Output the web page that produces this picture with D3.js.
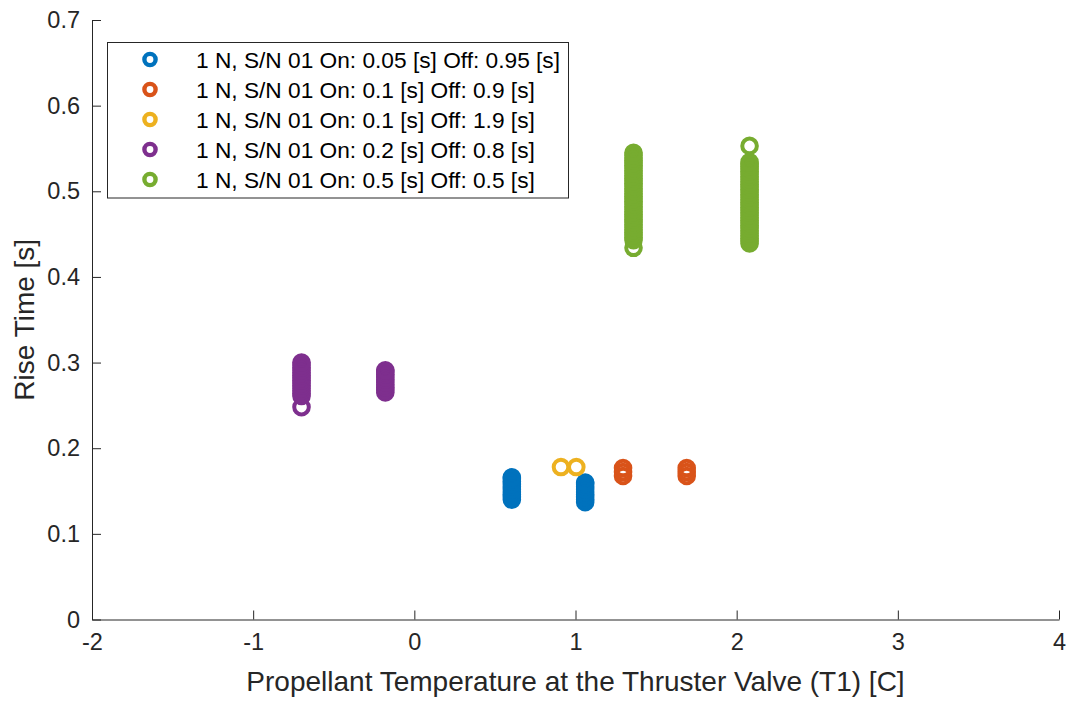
<!DOCTYPE html>
<html><head><meta charset="utf-8">
<script src="https://cdn.jsdelivr.net/npm/d3@7"></script>
<style>
body{margin:0;background:#fff;}
svg{display:block;font-family:"Liberation Sans",Arial,Helvetica,sans-serif;}
</style></head>
<body><svg id="c" width="1071" height="704"></svg>
<script>
// ---- data ----
const legendLabels = [
  "1 N, S/N 01 On: 0.05 [s] Off: 0.95 [s]",
  "1 N, S/N 01 On: 0.1 [s] Off: 0.9 [s]",
  "1 N, S/N 01 On: 0.1 [s] Off: 1.9 [s]",
  "1 N, S/N 01 On: 0.2 [s] Off: 0.8 [s]",
  "1 N, S/N 01 On: 0.5 [s] Off: 0.5 [s]"
];
const seriesColors = ["#0072BD", "#D95319", "#EDB120", "#7E2F8E", "#77AC30"];
const xTicks = [-2, -1, 0, 1, 2, 3, 4];
const xTickLabels = ["-2", "-1", "0", "1", "2", "3", "4"];
const yTicks = [0, 0.1, 0.2, 0.3, 0.4, 0.5, 0.6, 0.7];
const yTickLabels = ["0", "0.1", "0.2", "0.3", "0.4", "0.5", "0.6", "0.7"];

// series 1: On 0.05 / Off 0.95
const blueTemp = [0.605, 1.06];
const blueRise = [
  [0.140, 0.143, 0.146, 0.149, 0.152, 0.155, 0.158, 0.161, 0.164, 0.166],
  [0.137, 0.140, 0.143, 0.146, 0.149, 0.152, 0.155, 0.158, 0.160]
];
// series 2: On 0.1 / Off 0.9
const redTemp = [1.295, 1.69];
const redRise = [
  [0.1675, 0.1722, 0.1769],
  [0.1675, 0.1722, 0.1769]
];
// series 3: On 0.1 / Off 1.9
const yellowTemp = [0.91, 1.005];
const yellowRise = [
  [0.178],
  [0.178]
];
// series 4: On 0.2 / Off 0.8
const purpleTemp = [-0.70, -0.18];
const purpleRise = [
  [0.248, 0.261, 0.264, 0.267, 0.270, 0.273, 0.276, 0.279, 0.282, 0.285, 0.288, 0.291, 0.294, 0.297, 0.300],
  [0.265, 0.268, 0.271, 0.274, 0.277, 0.280, 0.283, 0.286, 0.289, 0.291]
];
// series 5: On 0.5 / Off 0.5
const greenTemp = [1.36, 2.08];
const greenRise = [
  [0.434, 0.443, 0.446, 0.449, 0.452, 0.455, 0.458, 0.461, 0.464, 0.467, 0.470, 0.473, 0.476, 0.479,
   0.482, 0.485, 0.488, 0.491, 0.494, 0.497, 0.500, 0.503, 0.506, 0.509, 0.512, 0.515, 0.518, 0.521,
   0.524, 0.527, 0.530, 0.533, 0.536, 0.539, 0.542, 0.545],
  [0.439, 0.442, 0.445, 0.448, 0.451, 0.454, 0.457, 0.460, 0.463, 0.466, 0.469, 0.472, 0.475, 0.478,
   0.481, 0.484, 0.487, 0.490, 0.493, 0.496, 0.499, 0.502, 0.505, 0.508, 0.511, 0.514, 0.517, 0.520,
   0.523, 0.526, 0.529, 0.532, 0.534, 0.553]
];

const seriesTemps = [blueTemp, redTemp, yellowTemp, purpleTemp, greenTemp];
const seriesRises = [blueRise, redRise, yellowRise, purpleRise, greenRise];

// ---- layout ----
const L = 92, R = 1059, T = 20, B = 619.5;
const ink = "#262626";
const mr = 7.3, msw = 4;

const svg = d3.select("#c");
const x = d3.scaleLinear().domain([-2, 4]).range([L, R]);
const y = d3.scaleLinear().domain([0, 0.7]).range([B, T]);

// points
seriesTemps.forEach((temps, si) => {
  const pts = [];
  temps.forEach((t, ci) => seriesRises[si][ci].forEach(r => pts.push([t, r])));
  svg.append("g").selectAll("circle").data(pts).join("circle")
    .attr("cx", d => x(d[0])).attr("cy", d => y(d[1])).attr("r", mr)
    .attr("fill", "none").attr("stroke", seriesColors[si]).attr("stroke-width", msw);
});

// axes
const xa = svg.append("g").attr("transform", `translate(0,${B})`)
  .call(d3.axisBottom(x).tickValues(xTicks).tickSizeInner(-9).tickSizeOuter(0).tickPadding(14)
    .tickFormat((d, i) => xTickLabels[i]));
const ya = svg.append("g").attr("transform", `translate(${L},0)`)
  .call(d3.axisLeft(y).tickValues(yTicks).tickSizeInner(-9).tickSizeOuter(0).tickPadding(12)
    .tickFormat((d, i) => yTickLabels[i]));
[xa, ya].forEach(a => {
  a.select(".domain").attr("stroke", ink).attr("stroke-width", 1);
  a.selectAll(".tick line").attr("stroke", ink).attr("stroke-width", 1);
  a.selectAll(".tick text").attr("fill", ink).style("font-size", "23.5px");
});
xa.selectAll(".tick text").attr("dy", "0.71em");

// axis labels
svg.append("text").attr("x", (L + R) / 2).attr("y", 691).attr("text-anchor", "middle")
  .attr("fill", ink).style("font-size", "28px").text("Propellant Temperature at the Thruster Valve (T1) [C]");
svg.append("text").attr("transform", `translate(34,${(T + B) / 2}) rotate(-90)`).attr("text-anchor", "middle")
  .attr("fill", ink).style("font-size", "28px").text("Rise Time [s]");

// legend
const lg = svg.append("g");
lg.append("rect").attr("x", 107.5).attr("y", 42.5).attr("width", 461).attr("height", 155.5)
  .attr("fill", "#fff").attr("stroke", ink).attr("stroke-width", 1);
legendLabels.forEach((lab, i) => {
  const cy = 59.5 + i * 30;
  lg.append("circle").attr("cx", 150).attr("cy", cy).attr("r", 5.6)
    .attr("fill", "none").attr("stroke", seriesColors[i]).attr("stroke-width", 4.4);
  lg.append("text").attr("x", 196).attr("y", cy).attr("dy", "0.36em")
    .attr("fill", "#000").style("font-size", "22.7px").text(lab);
});
</script></body></html>
